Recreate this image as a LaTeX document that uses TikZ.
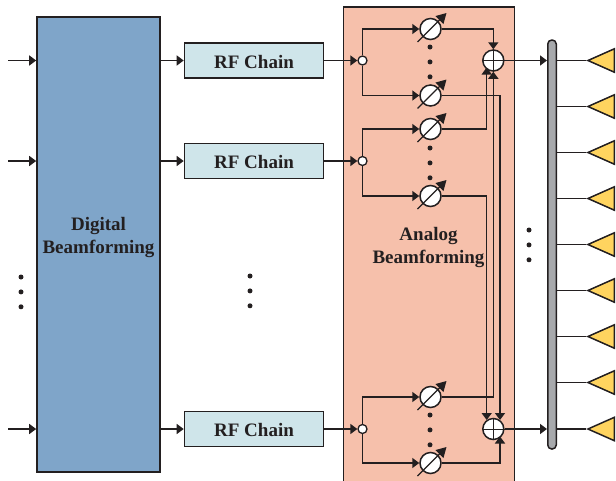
\documentclass[tikz,border=0pt]{standalone}
\usepackage{fontspec}
\setmainfont{Liberation Serif}
\usetikzlibrary{shapes.geometric, arrows.meta, calc, positioning}
\definecolor{ink}{HTML}{231F20}
\tikzstyle{digital} = [rectangle, minimum width=123pt, minimum height=455pt, inner sep=0pt, draw=ink, line width=1.6pt, fill={rgb,255:red,127;green,165;blue,201}]
\tikzstyle{analog} = [rectangle, minimum width=171pt, minimum height=476pt, inner sep=0pt, draw=ink, line width=1.6pt, fill={rgb,255:red,246;green,192;blue,171}]
\tikzstyle{rfchain} = [rectangle, minimum width=139pt, minimum height=35pt, inner sep=0pt, text centered, draw=ink, line width=1.6pt, fill={rgb,255:red,207;green,229;blue,234}]
\tikzstyle{split} = [circle, minimum size=9pt, inner sep=0pt, draw=ink, line width=1.3pt, fill=white]
\tikzstyle{phase} = [circle, minimum size=21pt, inner sep=0pt, draw=ink, line width=1.5pt, fill=white]
\tikzstyle{adder} = [circle, minimum size=21pt, inner sep=0pt, draw=ink, line width=1.5pt, fill=white]
\tikzstyle{bus} = [rectangle, rounded corners=4pt, minimum width=8.5pt, minimum height=409pt, inner sep=0pt, draw=ink, line width=1.5pt, fill={rgb,255:red,167;green,169;blue,172}]
\tikzstyle{antenna} = [isosceles triangle, isosceles triangle stretches, shape border rotate=180, minimum width=23.5pt, minimum height=26.5pt, inner sep=0pt, anchor=apex, draw=ink, line width=1.5pt, fill={rgb,255:red,255;green,212;blue,95}]
\tikzstyle{dot} = [circle, minimum size=5pt, inner sep=0pt, fill=ink]
\tikzstyle{arrow} = [line width=1.5pt, draw=ink, -{Triangle[length=7pt,width=10pt]}]
\tikzstyle{wire} = [line width=1.5pt, draw=ink]
\tikzstyle{slash} = [line width=1.3pt, draw=ink, -{Triangle[length=10pt,width=11pt]}]
\tikzstyle{label} = [align=center, text=ink, font=\fontsize{19}{23.5}\selectfont\bfseries, inner sep=0pt]
% phase shifter with its slanted arrow
\newcommand{\shifter}[3]{
    \node (#1) [phase] at (#2,#3) {};
    \draw [slash] ($(#1)+(-13,13)$) -- ($(#1)+(16,-16)$);
}
% summing junction with its cross
\newcommand{\summer}[3]{
    \node (#1) [adder] at (#2,#3) {};
    \draw [wire, line width=1pt] (#1.north) -- (#1.south);
    \draw [wire, line width=1pt] (#1.west) -- (#1.east);
}
% three dots in a column
\newcommand{\dotcol}[3]{
    \node (#1a) [dot] at (#2,#3) {};
    \node (#1b) [dot, below=9.5pt of #1a] {};
    \node (#1c) [dot, below=9.5pt of #1b] {};
}
\begin{document}
\begin{tikzpicture}[x=1pt, y=-1pt]
    \useasboundingbox (0,0) rectangle (616,480);
    % blocks
    \node (dig) [digital] at (98.5,244.5) {};
    \node (diglabel) [label] at (98.5,237.5) {Digital\\Beamforming};
    \node (rf1) [rfchain] at (254,60.5) {};
    \node (rf2) [rfchain] at (254,161) {};
    \node (rf3) [rfchain] at (254,429) {};
    \node (rf1label) [label] at (254,61.5) {RF Chain};
    \node (rf2label) [label] at (254,162) {RF Chain};
    \node (rf3label) [label] at (254,430) {RF Chain};
    \node (ana) [analog] at (429,245) {};
    \node (analabel) [label] at (428.5,247.5) {Analog\\Beamforming};
    \node (bar) [bus] at (552,244.5) {};
    % inputs
    \coordinate (in1) at (8,60.5);
    \coordinate (in2) at (8,161);
    \coordinate (in3) at (8,429);
    \draw [arrow] (in1) -- (in1 -| dig.west);
    \draw [arrow] (in2) -- (in2 -| dig.west);
    \draw [arrow] (in3) -- (in3 -| dig.west);
    \draw [arrow] (dig.east |- rf1.west) -- (rf1.west);
    \draw [arrow] (dig.east |- rf2.west) -- (rf2.west);
    \draw [arrow] (dig.east |- rf3.west) -- (rf3.west);
    % splitters
    \node (sp1) [split] at (362.5,60.5) {};
    \node (sp2) [split] at (362.5,161) {};
    \node (sp3) [split] at (362.5,429) {};
    \draw [arrow] (rf1.east) -- (sp1.west);
    \draw [arrow] (rf2.east) -- (sp2.west);
    \draw [arrow] (rf3.east) -- (sp3.west);
    % phase shifters
    \shifter{ps1}{430.5}{29}
    \shifter{ps2}{430.5}{95.5}
    \shifter{ps3}{430.5}{129}
    \shifter{ps4}{430.5}{196}
    \shifter{ps5}{430.5}{397}
    \shifter{ps6}{430.5}{463}
    \draw [arrow] (sp1.north) |- (ps1.west);
    \draw [arrow] (sp1.south) |- (ps2.west);
    \draw [arrow] (sp2.north) |- (ps3.west);
    \draw [arrow] (sp2.south) |- (ps4.west);
    \draw [arrow] (sp3.north) |- (ps5.west);
    \draw [arrow] (sp3.south) |- (ps6.west);
    \dotcol{da}{430}{47}
    \dotcol{db}{430}{148}
    \dotcol{dc}{430}{415}
    % adders
    \summer{sum1}{493.3}{60.5}
    \summer{sum2}{493.3}{429}
    \coordinate (s1l) at (486.7,67.5);
    \coordinate (s2l) at (486.7,420);
    \coordinate (s2r) at (500,420);
    \coordinate (s2b) at (500,436.5);
    \draw [arrow] (ps1.east) -| (sum1.north);
    \draw [arrow] (ps5.east) -| (sum1.south);
    \draw [arrow] (ps3.east) -| (s1l);
    \draw [arrow] (ps4.east) -| (s2l);
    \draw [arrow] (ps2.east) -| (s2r);
    \draw [arrow] (ps6.east) -| (s2b);
    \draw [arrow] (sum1.east) -- (sum1.east -| bar.west);
    \draw [arrow] (sum2.east) -- (sum2.east -| bar.west);
    \dotcol{dd}{21}{277}
    \dotcol{de}{250}{276}
    \dotcol{df}{529}{230}
    % antennas
    \node (ant1) [antenna] at (586,60.5) {};
    \node (ant2) [antenna] at (586,106.5) {};
    \node (ant3) [antenna] at (586,152.5) {};
    \node (ant4) [antenna] at (586,198.5) {};
    \node (ant5) [antenna] at (586,244.5) {};
    \node (ant6) [antenna] at (586,290.5) {};
    \node (ant7) [antenna] at (586,336.5) {};
    \node (ant8) [antenna] at (586,382.5) {};
    \node (ant9) [antenna] at (586,429) {};
    \draw [wire] (bar.east |- ant1.apex) -- (ant1.apex);
    \draw [wire] (bar.east |- ant2.apex) -- (ant2.apex);
    \draw [wire] (bar.east |- ant3.apex) -- (ant3.apex);
    \draw [wire] (bar.east |- ant4.apex) -- (ant4.apex);
    \draw [wire] (bar.east |- ant5.apex) -- (ant5.apex);
    \draw [wire] (bar.east |- ant6.apex) -- (ant6.apex);
    \draw [wire] (bar.east |- ant7.apex) -- (ant7.apex);
    \draw [wire] (bar.east |- ant8.apex) -- (ant8.apex);
    \draw [wire] (bar.east |- ant9.apex) -- (ant9.apex);
\end{tikzpicture}
\end{document}
